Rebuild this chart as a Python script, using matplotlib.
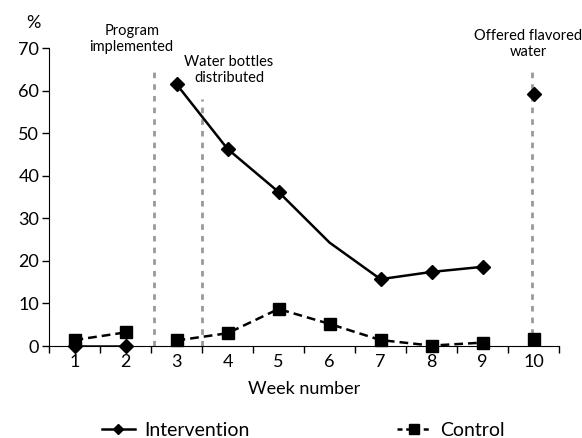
import numpy as np
import matplotlib
matplotlib.use('Agg')
import matplotlib.pyplot as plt

plt.rcParams['font.family'] = ['Lato', 'DejaVu Sans']

# Data
weeks = [1, 2, 3, 4, 5, 6, 7, 8, 9, 10]
intervention = [0, 0, 61.5, 46.3, 36.2, 24.3, 15.7, 17.4, 18.6, 59.1]
control = [1.4, 3.2, 1.3, 3.0, 8.7, 5.2, 1.4, 0.1, 0.8, 1.7]

events = ['Program\nimplemented', 'Water bottles\ndistributed', 'Offered flavored\nwater']
event_x = [2.56, 3.5, 9.97]
event_top = [64.6, 58.0, 64.6]

fig = plt.figure(figsize=(5.82, 4.38), dpi=100)
ax = fig.add_axes([0.0842, 0.21, 0.8763, 0.6804])

# vertical event lines
for x, top in zip(event_x, event_top):
    ax.plot([x, x], [0, top], color='#999999', lw=2, ls=(0, (2, 2.2)), zorder=1)

ax.text(2.12, 72.2, events[0], ha='center', va='center', fontsize=10.5, clip_on=False)
ax.text(4.03, 64.8, events[1], ha='center', va='center', fontsize=10.5)
ax.text(9.9, 71.0, events[2], ha='center', va='center', fontsize=10.5, clip_on=False)

# line segments: gaps between weeks 2-3 and 9-10
segments = [(0, 2), (2, 9), (9, 10)]
for a, b in segments:
    ax.plot(weeks[a:b], intervention[a:b], color='black', lw=1.8, zorder=3)
    ax.plot(weeks[a:b], control[a:b], color='black', lw=1.8, ls=(0, (3.5, 2)), zorder=3)

# markers (intervention has none at week 6)
int_mark = [i for i in range(10) if i != 5]
ax.plot([weeks[i] for i in int_mark], [intervention[i] for i in int_mark], ls='none',
        marker='D', ms=7, color='black', zorder=4, clip_on=False)
ax.plot(weeks, control, ls='none', marker='s', ms=8, color='black', zorder=4, clip_on=False)

ax.set_xlim(0.5, 10.5)
ax.set_ylim(0, 70)
ax.set_yticks(range(0, 71, 10))
ax.set_xticks(weeks)
ax.set_xticks(np.arange(0.5, 10.6, 1), minor=True)
ax.set_xticklabels([str(w) for w in weeks])
ax.tick_params(axis='x', which='major', length=0, labelsize=13, pad=6)
ax.tick_params(axis='x', which='minor', length=5, width=1)
ax.tick_params(axis='y', length=5, width=1, labelsize=13, pad=2)
for s in ['top', 'right']:
    ax.spines[s].set_visible(False)

ax.set_xlabel('Week number', fontsize=13, labelpad=8)
fig.text(0.057, 0.947, '%', ha='center', va='center', fontsize=13)

h1, = ax.plot([], [], color='black', lw=1.8, marker='D', ms=5.5)
h2, = ax.plot([], [], color='black', lw=1.8, ls=(0, (2, 1.5)), marker='s', ms=6.5)
fig.legend([h1, h2], ['Intervention', 'Control'], loc='center', ncol=2,
           bbox_to_anchor=(0.521, 0.018), frameon=False, fontsize=14,
           handlelength=1.7, handletextpad=0.5, columnspacing=7.6)

fig.savefig('out.png', dpi=100)
